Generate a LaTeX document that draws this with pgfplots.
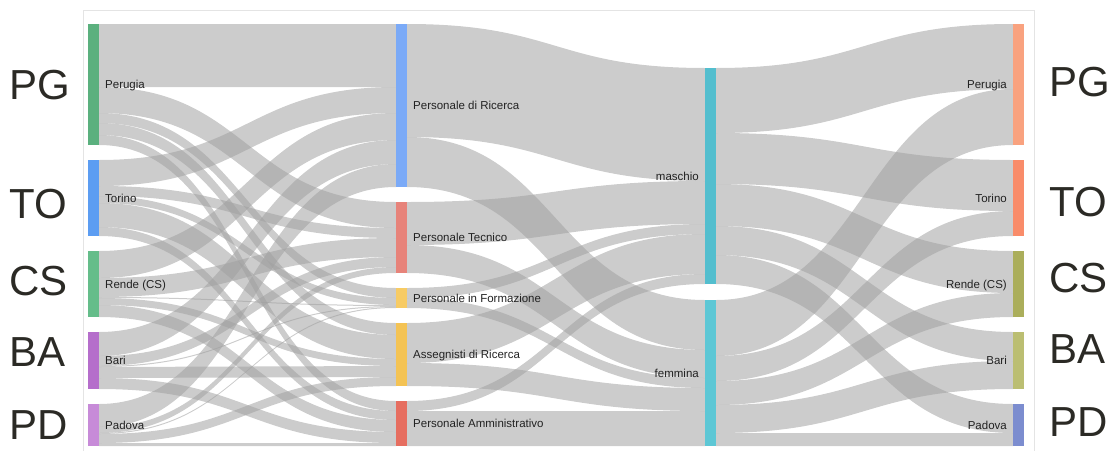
\documentclass[border=0pt]{standalone}
\usepackage{pgfplots}
\pgfplotsset{compat=1.18}
\usepackage{pgfplotstable}
\usepackage{fontspec}
\setmainfont{Liberation Sans}

\definecolor{linkgray}{HTML}{A0A0A0}
\definecolor{txt}{HTML}{222222}
\definecolor{bigtxt}{HTML}{2B2A25}
\definecolor{frame}{HTML}{E4E4E4}
% column 1
\definecolor{aPG}{HTML}{5BB07E}
\definecolor{aTO}{HTML}{5C9DF2}
\definecolor{aCS}{HTML}{65BD8A}
\definecolor{aBA}{HTML}{B56ECB}
\definecolor{aPD}{HTML}{C78BD8}
% column 2
\definecolor{bRic}{HTML}{7BAAF7}
\definecolor{bTec}{HTML}{E7837A}
\definecolor{bFor}{HTML}{F7CB64}
\definecolor{bAss}{HTML}{F4C354}
\definecolor{bAmm}{HTML}{E66E60}
% column 3
\definecolor{cM}{HTML}{53BECE}
\definecolor{cF}{HTML}{5DC7D5}
% column 4
\definecolor{dPG}{HTML}{F9A27F}
\definecolor{dTO}{HTML}{F98C6A}
\definecolor{dCS}{HTML}{ABAE5B}
\definecolor{dBA}{HTML}{BBBE72}
\definecolor{dPD}{HTML}{7C8DCF}

% flows: x0 x1 = link ends, s = top at source, t = top at target, w = thickness (px)
\pgfplotstableread{
x0 x1 s t w
99 396 24 24 63
99 396 87 202 26
99 396 113 288 10
99 396 123 323 12
99 396 135 401 10
99 396 160 87 26
99 396 186 228 10
99 396 196 298 7
99 396 203 335 24
99 396 227 411 9
99 396 251 113 27
99 396 278 238 19
99 396 297 305 1
99 396 298 359 7
99 396 305 420 12
99 396 332 140 24
99 396 356 257 10
99 396 366 306 1
99 396 367 366 11
99 396 378 432 11
99 396 404 164 23
99 396 427 267 6
99 396 433 307 1
99 396 434 377 9
99 396 443 443 3
407 705 24 68 113
407 705 137 300 50
407 705 202 181 43
407 705 245 350 28
407 705 288 224 10
407 705 298 378 10
407 705 323 234 40
407 705 363 388 23
407 705 401 274 10
407 705 411 411 35
716 1013 68 24 65
716 1013 133 160 51
716 1013 184 251 42
716 1013 226 332 29
716 1013 255 404 29
716 1013 300 89 56
716 1013 356 211 25
716 1013 381 293 24
716 1013 405 361 28
716 1013 433 433 13
}\flows

\begin{document}
\begin{tikzpicture}
\begin{axis}[name=ax, width=1115pt, height=450pt, scale only axis,
  xmin=0, xmax=1115, ymin=0, ymax=450, y dir=reverse,
  hide axis, clip=false, no markers]

% frame
\draw[frame, line width=0.8pt] (axis cs:83.5,10.5) rectangle (axis cs:1034.5,452);

% links
\pgfplotstablegetrowsof{\flows}
\pgfmathtruncatemacro{\nrows}{\pgfplotsretval-1}
\pgfplotsforeachungrouped \flowidx in {0,...,\nrows}{%
  \pgfplotstablegetelem{\flowidx}{x0}\of\flows \let\xa\pgfplotsretval
  \pgfplotstablegetelem{\flowidx}{x1}\of\flows \let\xb\pgfplotsretval
  \pgfplotstablegetelem{\flowidx}{s}\of\flows \let\ysa\pgfplotsretval
  \pgfplotstablegetelem{\flowidx}{t}\of\flows \let\yta\pgfplotsretval
  \pgfplotstablegetelem{\flowidx}{w}\of\flows \let\ww\pgfplotsretval
  \pgfmathsetmacro{\xm}{(\xa+\xb)/2}%
  \pgfmathsetmacro{\ysb}{\ysa+\ww}%
  \pgfmathsetmacro{\ytb}{\yta+\ww}%
  \edef\tmp{\noexpand\fill[linkgray, fill opacity=0.54]
    (axis cs:\xa,\ysa) .. controls (axis cs:\xm,\ysa) and (axis cs:\xm,\yta) .. (axis cs:\xb,\yta)
    -- (axis cs:\xb,\ytb) .. controls (axis cs:\xm,\ytb) and (axis cs:\xm,\ysb) .. (axis cs:\xa,\ysb) -- cycle;}%
  \tmp
}

% nodes column 1
\addplot[draw=none, fill=aPG] coordinates {(88,24) (99,24) (99,145) (88,145)};
\addplot[draw=none, fill=aTO] coordinates {(88,160) (99,160) (99,236) (88,236)};
\addplot[draw=none, fill=aCS] coordinates {(88,251) (99,251) (99,317) (88,317)};
\addplot[draw=none, fill=aBA] coordinates {(88,332) (99,332) (99,389) (88,389)};
\addplot[draw=none, fill=aPD] coordinates {(88,404) (99,404) (99,446) (88,446)};
% nodes column 2
\addplot[draw=none, fill=bRic] coordinates {(396,24) (407,24) (407,187) (396,187)};
\addplot[draw=none, fill=bTec] coordinates {(396,202) (407,202) (407,273) (396,273)};
\addplot[draw=none, fill=bFor] coordinates {(396,288) (407,288) (407,308) (396,308)};
\addplot[draw=none, fill=bAss] coordinates {(396,323) (407,323) (407,386) (396,386)};
\addplot[draw=none, fill=bAmm] coordinates {(396,401) (407,401) (407,446) (396,446)};
% nodes column 3
\addplot[draw=none, fill=cM] coordinates {(705,68) (716,68) (716,284) (705,284)};
\addplot[draw=none, fill=cF] coordinates {(705,300) (716,300) (716,446) (705,446)};
% nodes column 4
\addplot[draw=none, fill=dPG] coordinates {(1013,24) (1024,24) (1024,145) (1013,145)};
\addplot[draw=none, fill=dTO] coordinates {(1013,160) (1024,160) (1024,236) (1013,236)};
\addplot[draw=none, fill=dCS] coordinates {(1013,251) (1024,251) (1024,317) (1013,317)};
\addplot[draw=none, fill=dBA] coordinates {(1013,332) (1024,332) (1024,389) (1013,389)};
\addplot[draw=none, fill=dPD] coordinates {(1013,404) (1024,404) (1024,446) (1013,446)};

% small labels
\tikzset{lab/.style={inner sep=0pt, text=txt, font=\fontsize{11.5}{13}\selectfont}}
\node[lab, anchor=base west] at (axis cs:105,88.5) {Perugia};
\node[lab, anchor=base west] at (axis cs:105,202) {Torino};
\node[lab, anchor=base west] at (axis cs:105,288) {Rende (CS)};
\node[lab, anchor=base west] at (axis cs:105,364.5) {Bari};
\node[lab, anchor=base west] at (axis cs:105,429) {Padova};

\node[lab, anchor=base west] at (axis cs:413,109.5) {Personale di Ricerca};
\node[lab, anchor=base west] at (axis cs:413,241.5) {Personale Tecnico};
\node[lab, anchor=base west] at (axis cs:413,302) {Personale in Formazione};
\node[lab, anchor=base west] at (axis cs:413,358.5) {Assegnisti di Ricerca};
\node[lab, anchor=base west] at (axis cs:413,427.5) {Personale Amministrativo};

\node[lab, anchor=base east] at (axis cs:699,180) {maschio};
\node[lab, anchor=base east] at (axis cs:699,377) {femmina};

\node[lab, anchor=base east] at (axis cs:1007,88.5) {Perugia};
\node[lab, anchor=base east] at (axis cs:1007,202) {Torino};
\node[lab, anchor=base east] at (axis cs:1007,288) {Rende (CS)};
\node[lab, anchor=base east] at (axis cs:1007,364.5) {Bari};
\node[lab, anchor=base east] at (axis cs:1007,429) {Padova};

% big labels
\tikzset{big/.style={inner sep=0pt, text=bigtxt, font=\fontsize{42}{44}\selectfont}}
\node[big, anchor=base west] at (axis cs:9,99) {PG};
\node[big, anchor=base west] at (axis cs:9,218) {TO};
\node[big, anchor=base west] at (axis cs:9,295) {CS};
\node[big, anchor=base west] at (axis cs:9,366) {BA};
\node[big, anchor=base west] at (axis cs:9,439) {PD};

\node[big, anchor=base west] at (axis cs:1049,96) {PG};
\node[big, anchor=base west] at (axis cs:1049,216) {TO};
\node[big, anchor=base west] at (axis cs:1049,292) {CS};
\node[big, anchor=base west] at (axis cs:1049,363) {BA};
\node[big, anchor=base west] at (axis cs:1049,436) {PD};
\end{axis}
\pgfresetboundingbox
\path[use as bounding box] (ax.south west) rectangle (ax.north east);
\end{tikzpicture}
\end{document}
